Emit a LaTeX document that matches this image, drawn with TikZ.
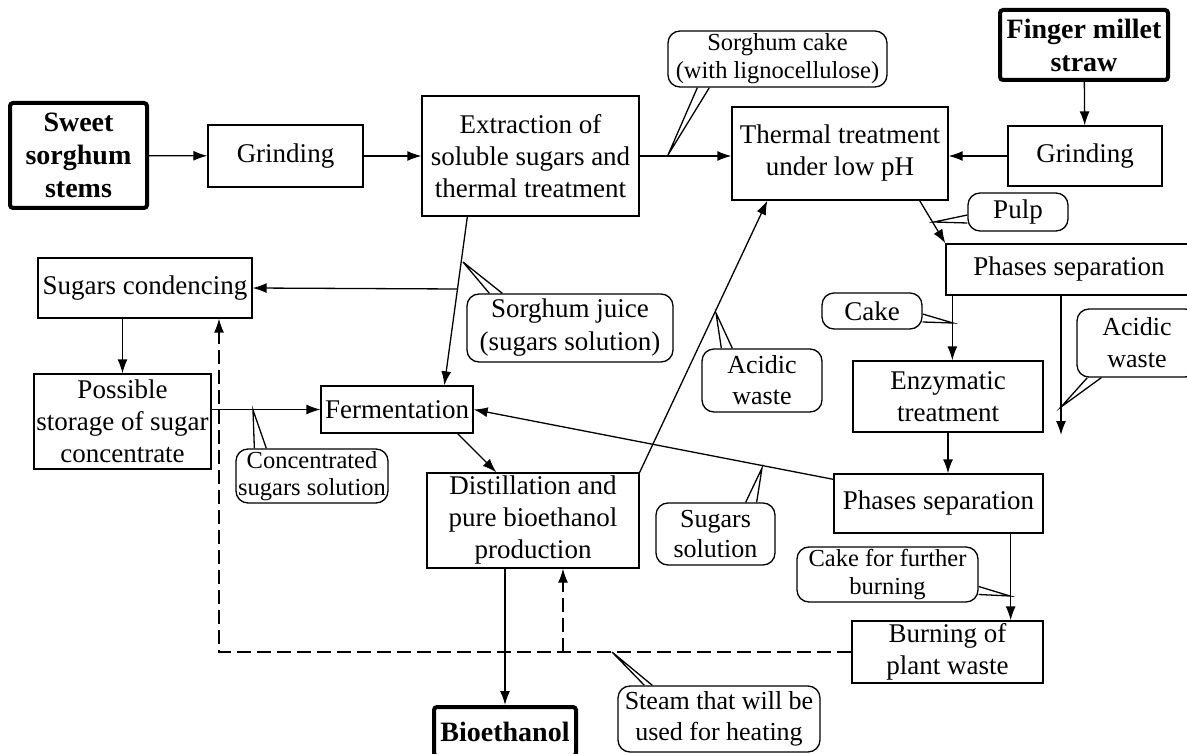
\documentclass[tikz,border=0pt]{standalone}
\usepackage{fontspec}
\setmainfont{Liberation Serif}
\usetikzlibrary{arrows.meta}
\tikzset{>={Latex[length=14pt,width=10pt]}}
\tikzset{
  box/.style={draw,line width=1.3pt,inner sep=0pt,align=center,font=\fontsize{27}{32}\selectfont},
  inbox/.style={box,line width=4pt,rounded corners=3pt,font=\fontsize{28}{33}\selectfont\bfseries},
  note/.style={box,rounded corners=12pt,font=\fontsize{26}{31}\selectfont},
}

\begin{document}
\begin{tikzpicture}[x=1pt,y=-1pt,line width=1.3pt]
                \useasboundingbox (0,0) rectangle (1187,754);
                \node[inbox,minimum width=137,minimum height=105] (sweet) at (78.5,155.5) {Sweet\\sorghum\\stems};
                \node[box,minimum width=155,minimum height=62] (g1) at (285.5,156) {Grinding};
                \node[box,minimum width=217,minimum height=120] (ext) at (530.5,156) {Extraction of\\soluble sugars and\\thermal treatment};
                \node[box,minimum width=216,minimum height=93] (therm) at (840,153.5) {Thermal treatment\\under low pH};
                \node[inbox,minimum width=168,minimum height=70] (fms) at (1084,45) {Finger millet\\straw};
                \node[box,minimum width=154,minimum height=60] (g2) at (1085,156) {Grinding};
                \node[box,minimum width=246,minimum height=51] (ph1) at (1069,269.5) {Phases separation};
                \node[box,minimum width=190,minimum height=71] (enz) at (948,396.5) {Enzymatic\\treatment};
                \node[box,minimum width=209,minimum height=59] (ph2) at (938.5,503.5) {Phases separation};
                \node[box,minimum width=191,minimum height=62] (burn) at (947.5,652) {Burning of\\plant waste};
                \node[box,minimum width=214,minimum height=60] (cond) at (145,288) {Sugars condencing};
                \node[box,minimum width=177,minimum height=95] (stor) at (122.5,421.5) {Possible\\storage of sugar\\concentrate};
                \node[box,minimum width=152,minimum height=47] (ferm) at (397,409.5) {Fermentation};
                \node[box,minimum width=212,minimum height=95] (dist) at (533,520.5) {Distillation and\\pure bioethanol\\production};
                \node[inbox,minimum width=142,minimum height=49] (bio) at (505,731.5) {Bioethanol};

                \node[note,minimum width=219,minimum height=56,font=\fontsize{24.5}{28}\selectfont] (sc) at (777.5,59) {Sorghum cake\\(with lignocellulose)};
                \node[note,minimum width=100,minimum height=38,font=\fontsize{27}{32}\selectfont] (pulp) at (1018,212) {Pulp};
                \node[note,minimum width=100,minimum height=36,font=\fontsize{27}{32}\selectfont] (cake) at (872,311) {Cake};
                \node[note,minimum width=120,minimum height=68,font=\fontsize{26}{32}\selectfont] (aw1) at (1137,343) {Acidic\\waste};
                \node[note,minimum width=206,minimum height=68,font=\fontsize{27}{33}\selectfont] (juice) at (570,328) {Sorghum juice\\(sugars solution)};
                \node[note,minimum width=120,minimum height=63] (aw2) at (762,380.5) {Acidic\\waste};
                \node[note,minimum width=152,minimum height=54,font=\fontsize{24.5}{27}\selectfont] (conc) at (312,476) {Concentrated\\sugars solution};
                \node[note,minimum width=119,minimum height=62,font=\fontsize{26}{30}\selectfont] (sol) at (715.5,534) {Sugars\\solution};
                \node[note,minimum width=181,minimum height=55,font=\fontsize{24.5}{28}\selectfont] (cfb) at (887.5,574.5) {Cake for further\\burning};
                \node[note,minimum width=202,minimum height=66] (steam) at (719,719) {Steam that will be\\used for heating};

                \coordinate (sct) at (668,155);
                \coordinate (pt) at (934,222);
                \coordinate (ct) at (953,323);
                \coordinate (waste) at (1061,435);
                \coordinate (awt) at (1061,407);
                \coordinate (jt) at (458,289);
                \coordinate (jp) at (463,262);
                \coordinate (a2t) at (716,313);
                \coordinate (cst) at (253,410);
                \coordinate (sst) at (762,468);
                \coordinate (cft) at (1010,596);
                \coordinate (stt) at (612,652);
                \coordinate (dc) at (219,652);
                \coordinate (db) at (563,652);

                \draw[->] (sweet) -- (g1);
                \draw[->] (g1) -- (ext.west |- g1);
                \draw[->] (ext.east) -- (ext.east -| therm.west);
                \draw[->] (fms) -- (g2);
                \draw[->] (g2.west) -- (g2.west -| therm.east);
                \draw[->] ([xshift=-29]therm.south east) -- (ph1.north west);
                \draw[->] ([xshift=7]ph1.south west) -- ([xshift=7]ph1.south west |- enz.north);
                \draw[->] (ph1.south -| waste) -- (waste);
                \draw[->] (enz.south) -- (enz.south |- ph2.north);
                \draw[->] ([xshift=-33]ph2.south east) -- ([xshift=-33]ph2.south east |- burn.north);
                \draw[->] ([xshift=46]ext.south west) -- ([xshift=124]ferm.north west);
                \draw[->] (jt) -- (cond.east);
                \draw[->] (cond.south -| stor.north) -- (stor.north);
                \draw[->] (ferm.west -| stor.east) -- (ferm.west);
                \draw[->] ([xshift=-16]ferm.south east) -- ([xshift=70]dist.north west);
                \draw[->] (dist.north east) -- ([xshift=36]therm.south west);
                \draw[->] ([yshift=-6]ph2.north west) -- (ferm.east);
                \draw[->] (bio.north |- dist.south) -- (bio.north);
                \draw[->,dash pattern=on 14pt off 6pt] (burn.west) -- (dc) -- (dc |- cond.south);
                \draw[->,dash pattern=on 14pt off 6pt] (db) -- (db |- dist.south);

                \draw ([xshift=30]sc.south west) -- (sct) -- ([xshift=42]sc.south west);
                \draw ([yshift=-3]pulp.west) -- (pt) -- ([yshift=-11]pulp.west);
                \draw ([yshift=-3]cake.east) -- (ct) -- ([yshift=-11]cake.east);
                \draw ([xshift=11]aw1.south west) -- (awt) -- ([xshift=25]aw1.south west);
                \draw ([xshift=23]juice.north west) -- (jp) -- ([xshift=36]juice.north west);
                \draw ([xshift=20]aw2.north west) -- (a2t) -- ([xshift=31]aw2.north west);
                \draw ([xshift=19]conc.north west) -- (cst) -- ([xshift=31]conc.north west);
                \draw ([xshift=-30]sol.north east) -- (sst) -- ([xshift=-19]sol.north east);
                \draw ([yshift=-12]cfb.east) -- (cft) -- ([yshift=-20]cfb.east);
                \draw ([xshift=27]steam.north west) -- (stt) -- ([xshift=35]steam.north west);
\end{tikzpicture}
\end{document}
